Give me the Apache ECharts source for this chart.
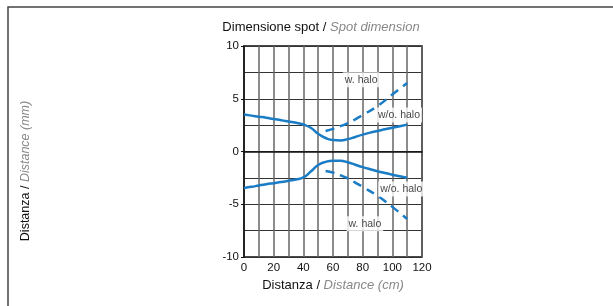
<!DOCTYPE html>
<html>
<head>
<meta charset="utf-8">
<script src="https://cdn.jsdelivr.net/npm/echarts@6/dist/echarts.min.js"></script>
<style>
html, body { margin: 0; padding: 0; background: #fff; }
#container { width: 613px; height: 306px; }
</style>
</head>
<body>
<div id="container"></div>
<script>
var FONT = "'Liberation Sans', Arial, sans-serif";

// distance (cm)
var xSolid = [0, 5, 10, 15, 20, 25, 30, 35, 40, 45, 50, 55, 60, 65, 70, 75, 80, 85, 90, 95, 100, 105, 110];
var woHaloUpper = [3.5, 3.4, 3.3, 3.2, 3.08, 2.97, 2.85, 2.73, 2.56, 2.25, 1.68, 1.28, 1.08, 1.05, 1.17, 1.38, 1.6, 1.79, 1.95, 2.1, 2.25, 2.4, 2.55];
var woHaloLower = [-3.45, -3.35, -3.22, -3.1, -3.0, -2.9, -2.78, -2.65, -2.46, -1.9, -1.28, -0.98, -0.87, -0.88, -1.02, -1.25, -1.48, -1.68, -1.87, -2.04, -2.2, -2.35, -2.48];

var xDashed = [55, 60, 65, 70, 75, 80, 90, 100, 110];
var wHaloUpper = [1.95, 2.15, 2.4, 2.7, 3.05, 3.45, 4.3, 5.4, 6.5];
var wHaloLower = [-1.85, -2.0, -2.25, -2.55, -2.95, -3.35, -4.2, -5.25, -6.4];

var xLabels = [0, 20, 40, 60, 80, 100, 120];

// curve labels [x, y, text]
var curveNotes = [
    [79, 6.8, 'w. halo'],
    [104.5, 3.45, 'w/o. halo'],
    [106, -3.55, 'w/o. halo'],
    [81.5, -6.85, 'w. halo']
];

function pairs(xs, ys) {
    return xs.map(function (x, i) { return [x, ys[i]]; });
}

var dom = document.getElementById("container");
var myChart = echarts.init(dom);

var blue = '#1a7cc4';
var richText = {
    a: { fontFamily: FONT, fontSize: 13, color: '#111', fontWeight: 'normal' },
    b: { fontFamily: FONT, fontSize: 13, color: '#888', fontStyle: 'italic', fontWeight: 'normal' }
};

var option = {
    backgroundColor: '#fff',
    animation: false,
    textStyle: { fontFamily: FONT },
    title: {
        text: '{a|Dimensione spot / }{b|Spot dimension}',
        left: 316,
        top: 16,
        textAlign: 'center',
        textStyle: { fontWeight: 'normal', rich: richText }
    },
    graphic: [
        {
            type: 'rect',
            shape: { x: 8, y: 7, width: 700, height: 400 },
            style: { fill: null, stroke: '#444', lineWidth: 1.5 },
            silent: true
        },
        {
            type: 'text',
            x: 26,
            y: 171,
            rotation: Math.PI / 2,
            style: {
                text: '{a|Distanza / }{b|Distance (mm)}',
                align: 'center',
                verticalAlign: 'middle',
                rich: {
                    a: { fontFamily: FONT, fontSize: 12.5, fill: '#111' },
                    b: { fontFamily: FONT, fontSize: 12.5, fill: '#888', fontStyle: 'italic' }
                }
            }
        }
    ],
    grid: {
        left: 244,
        right: 191,
        top: 46,
        bottom: 49,
        show: true,
        borderColor: '#111',
        borderWidth: 1.5
    },
    xAxis: {
        type: 'value',
        min: 0,
        max: 120,
        interval: 10,
        name: '{a|Distanza / }{b|Distance (cm)}',
        nameLocation: 'middle',
        nameGap: 21,
        nameTextStyle: { rich: richText },
        axisLine: { lineStyle: { color: '#111', width: 1.5 } },
        axisTick: { show: false },
        axisLabel: {
            color: '#111', fontSize: 11.5, margin: 5, fontFamily: FONT,
            formatter: function (v) { return xLabels.indexOf(v) >= 0 ? String(v) : ''; }
        },
        splitLine: { show: true, lineStyle: { color: '#666', width: 1.5 } }
    },
    yAxis: [
        {
            type: 'value',
            min: -10,
            max: 10,
            interval: 2.5,
            axisLine: { lineStyle: { color: '#111', width: 1.5 } },
            axisTick: { show: false },
            axisLabel: { show: false },
            splitLine: { show: true, lineStyle: { color: '#333', width: 1.2 } }
        },
        {
            type: 'value',
            position: 'left',
            min: -10,
            max: 10,
            interval: 5,
            axisLine: { show: false },
            axisTick: { show: true, length: 3, lineStyle: { color: '#111' } },
            axisLabel: { color: '#111', fontSize: 11.5, margin: 5, fontFamily: FONT },
            splitLine: { show: false }
        }
    ],
    series: [
        {
            name: 'w/o. halo',
            type: 'line',
            data: pairs(xSolid, woHaloUpper),
            smooth: 0.5,
            showSymbol: false,
            lineStyle: { color: blue, width: 2.5 }
        },
        {
            name: 'w/o. halo',
            type: 'line',
            data: pairs(xSolid, woHaloLower),
            smooth: 0.5,
            showSymbol: false,
            lineStyle: { color: blue, width: 2.5 }
        },
        {
            name: 'w. halo',
            type: 'line',
            data: pairs(xDashed, wHaloUpper),
            smooth: 0.4,
            showSymbol: false,
            lineStyle: { color: blue, width: 2.5, type: [9, 6] }
        },
        {
            name: 'w. halo',
            type: 'line',
            data: pairs(xDashed, wHaloLower),
            smooth: 0.4,
            showSymbol: false,
            lineStyle: { color: blue, width: 2.5, type: [9, 6] }
        },
        {
            name: 'notes',
            type: 'scatter',
            symbolSize: 0,
            silent: true,
            data: curveNotes.map(function (n) { return { value: [n[0], n[1]], name: n[2] }; }),
            label: {
                show: true,
                position: 'inside',
                formatter: '{b}',
                color: '#111',
                fontFamily: FONT,
                fontSize: 10.5,
                backgroundColor: '#fff',
                padding: [2, 2]
            },
            z: 5
        }
    ]
};

myChart.setOption(option, true);
</script>
</body>
</html>
